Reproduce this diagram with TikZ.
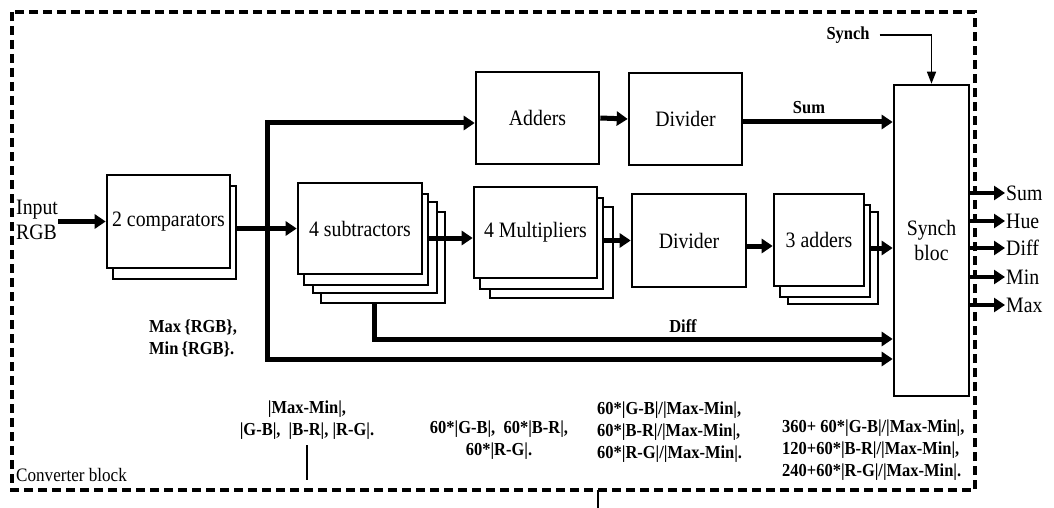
\documentclass[tikz,border=0pt]{standalone}
\usepackage{fontspec}
\setmainfont{Liberation Serif}[FakeStretch=0.9]
\usetikzlibrary{arrows.meta,calc}
\begin{document}
\begin{tikzpicture}[x=1pt,y=-1pt,
  mainfont/.style={font=\fontsize{22}{25}\selectfont},
  box/.style={draw,line width=2.6pt,fill=white,inner sep=0pt,align=center,mainfont},
  shad/.style={draw,line width=1.3pt,fill=white,inner sep=0pt},
  arr/.style={line width=5pt,-{Triangle[length=11pt,width=14pt]}},
  oarr/.style={line width=4.5pt,-{Triangle[length=11pt,width=14pt]}},
  thinarr/.style={line width=1.5pt,-{Triangle[length=12pt,width=9pt]}},
  lbl/.style={font=\bfseries\fontsize{18.3}{22}\selectfont,inner sep=0pt},
  txt/.style={mainfont,inner sep=0pt},
  border/.style={line width=3.5pt,dash pattern=on 9pt off 5pt},
  thinline/.style={line width=1.3pt}
]
\useasboundingbox (0,0) rectangle (1054,508);

% converter block border
\draw[border] (12,12) rectangle (975,490);
\node[txt,anchor=west,font=\fontsize{19}{22}\selectfont] (cb) at (16,475) {Converter block};

% input
\node[txt,align=left,anchor=west] (inp) at (16,220) {Input\\RGB};

% comparators
\node[shad,minimum width=123pt,minimum height=93pt] (cmpS) at (174.5,232.5) {};
\node[box,minimum width=123pt,minimum height=93pt] (cmp) at (168.5,221.5) {2 comparators};

% subtractors
\node[shad,minimum width=124pt,minimum height=91pt] (subS3) at (383,257.5) {};
\node[shad,minimum width=124pt,minimum height=91pt] (subS2) at (375,247.5) {};
\node[shad,minimum width=124pt,minimum height=91pt] (subS1) at (366,239.5) {};
\node[box,minimum width=124pt,minimum height=91pt] (sub) at (360,228.5) {4 subtractors};

% multipliers
\node[shad,minimum width=123pt,minimum height=91pt] (mulS2) at (551.5,252.5) {};
\node[shad,minimum width=123pt,minimum height=91pt] (mulS1) at (541.5,243.5) {};
\node[box,minimum width=123pt,minimum height=91pt] (mul) at (535.5,232.5) {4 Multipliers};

% adders / dividers
\node[box,minimum width=123pt,minimum height=92pt] (add) at (537.5,118) {Adders};
\node[box,minimum width=113pt,minimum height=92pt] (div1) at (685.5,119) {Divider};
\node[box,minimum width=114pt,minimum height=93pt] (div2) at (689,240.5) {Divider};

% 3 adders
\node[shad,minimum width=90pt,minimum height=92pt] (addS2) at (833,258) {};
\node[shad,minimum width=90pt,minimum height=92pt] (addS1) at (825,251) {};
\node[box,minimum width=90pt,minimum height=92pt] (add3) at (819,240) {3 adders};

% synch bloc
\node[box,minimum width=75pt,minimum height=311pt] (syn) at (931.5,240.5) {Synch\\bloc};

% connectors
\draw[arr] (inp.east |- cmp.west) -- (cmp.west);
\draw[arr] (cmpS.east |- sub.west) -- (sub.west);

\coordinate (j1) at (267,123);
\coordinate (j2) at (267,359);
\draw[arr] (j2) -- (j1) -- (add.west |- j1);
\draw[arr] (j1) -- (j2) -- (syn.west |- j2);

\draw[arr] (add.east) -- (div1.west);
\draw[arr] (div1.east |- 0,122) -- (syn.west |- 0,122);
\node[lbl] (suml) at (809,108) {Sum};

\coordinate (a2) at (429,238);
\draw[arr] (a2) -- (mul.west |- a2);
\draw[arr] (mulS1.east |- div2.west) -- (div2.west);
\coordinate (a3) at (746,246);
\draw[arr] (a3) -- (add3.west |- a3);
\coordinate (a4) at (870,248);
\draw[arr] (a4) -- (syn.west |- a4);

\coordinate (d1) at (374,339);
\draw[arr] (d1 |- subS3.south) -- (d1) -- (syn.west |- d1);
\node[lbl] (diffl) at (683,326) {Diff};

% synch input
\node[lbl] (synl) at (848,35) {Synch};
\draw[thinarr,shorten <=10pt] (synl.east) -- (syn.north |- synl.east) -- (syn.north);

% outputs
\node[txt,anchor=west,inner xsep=1pt] (o1) at (1005,193) {Sum};
\node[txt,anchor=west,inner xsep=1pt] (o2) at (1005,221) {Hue};
\node[txt,anchor=west,inner xsep=1pt] (o3) at (1005,248) {Diff};
\node[txt,anchor=west,inner xsep=1pt] (o4) at (1005,277) {Min};
\node[txt,anchor=west,inner xsep=1pt] (o5) at (1005,305) {Max};
\foreach \i in {1,...,5} { \draw[oarr] (syn.east |- o\i.west) -- (o\i.west); }

% labels
\node[lbl,align=left,anchor=west] (l1) at (149,338) {Max\,\{RGB\},\\Min\,\{RGB\}.};
\node[lbl,align=center] (l2) at (307,420) {|Max-Min|,\\|G-B|,~ |B-R|, |R-G|.};
\node[lbl,align=center] (l3) at (499,440) {60*|G-B|,~ 60*|B-R|,\\60*|R-G|.};
\node[lbl,align=left,anchor=west] (l4) at (597,432) {60*|G-B|/|Max-Min|,\\60*|B-R|/|Max-Min|,\\60*|R-G|/|Max-Min|.};
\node[lbl,align=left,anchor=west] (l5) at (782,450) {360+ 60*|G-B|/|Max-Min|,\\120+60*|B-R|/|Max-Min|,\\240+60*|R-G|/|Max-Min|.};

\coordinate (t1) at (307,445);
\coordinate (t2) at (307,480);
\draw[thinline] (t1) -- (t2);
\coordinate (t3) at (598,490);
\coordinate (t4) at (598,508);
\draw[thinline] (t3) -- (t4);
\end{tikzpicture}
\end{document}
